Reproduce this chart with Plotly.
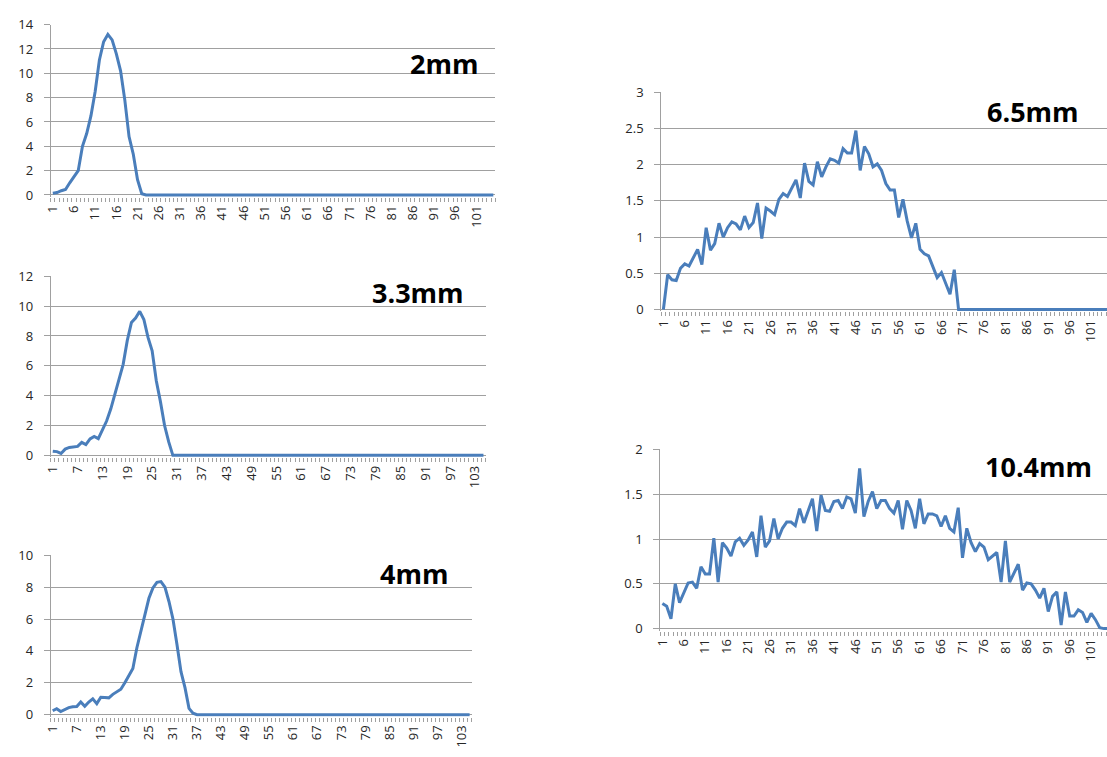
import plotly.graph_objects as go

# ---------------- data ----------------
categories = list(range(1, 106))

ticks_step5 = [1, 6, 11, 16, 21, 26, 31, 36, 41, 46, 51, 56, 61, 66, 71, 76, 81, 86, 91, 96, 101]
ticks_step6 = [1, 7, 13, 19, 25, 31, 37, 43, 49, 55, 61, 67, 73, 79, 85, 91, 97, 103]

titles = ["2mm", "3.3mm", "4mm", "6.5mm", "10.4mm"]

v_2mm = [0.15, 0.2, 0.35, 0.45, 1.0, 1.5, 2.0, 4.0, 5.05, 6.5,
         8.5, 11.1, 12.6, 13.2, 12.75, 11.6, 10.2, 7.8, 4.8, 3.35,
         1.25, 0.1, 0] + [0] * 82

v_3_3mm = [0.28, 0.25, 0.13, 0.42, 0.53, 0.58, 0.6, 0.87, 0.72, 1.1,
           1.27, 1.12, 1.75, 2.3, 3.1, 4.1, 5.0, 6.1, 7.7, 8.9,
           9.2, 9.65, 9.1, 7.9, 7.0, 5.0, 3.6, 2.0, 0.9, 0] + [0] * 75

v_4mm = [0.25, 0.38, 0.2, 0.35, 0.45, 0.5, 0.52, 0.8, 0.53, 0.8,
         1.0, 0.7, 1.1, 1.08, 1.06, 1.28, 1.43, 1.6, 2.0, 2.5,
         2.9, 4.2, 5.3, 6.4, 7.3, 7.95, 8.3, 8.35, 8.0, 7.1,
         6.0, 4.4, 2.7, 1.7, 0.4, 0.1, 0] + [0] * 68

v_6_5mm = [0, 0.48, 0.41, 0.40, 0.57, 0.63, 0.60, 0.71, 0.83, 0.62,
           1.13, 0.82, 0.91, 1.19, 1.0, 1.13, 1.21, 1.18, 1.10, 1.29,
           1.13, 1.2, 1.47, 0.98, 1.40, 1.36, 1.31, 1.52, 1.6, 1.56,
           1.67, 1.79, 1.54, 2.02, 1.77, 1.72, 2.04, 1.83, 1.97, 2.08,
           2.06, 2.02, 2.22, 2.16, 2.16, 2.47, 1.92, 2.25, 2.15, 1.97,
           2.01, 1.92, 1.74, 1.65, 1.65, 1.27, 1.52, 1.22, 0.99, 1.19,
           0.83, 0.77, 0.74, 0.59, 0.44, 0.51, 0.37, 0.21, 0.55, 0] + [0] * 35

v_10_4mm = [0.28, 0.25, 0.11, 0.50, 0.29, 0.40, 0.51, 0.52, 0.45, 0.69,
            0.61, 0.61, 1.01, 0.52, 0.96, 0.90, 0.81, 0.97, 1.01, 0.93,
            0.99, 1.08, 0.80, 1.26, 0.91, 0.98, 1.23, 1.0, 1.12, 1.19,
            1.19, 1.15, 1.34, 1.18, 1.31, 1.45, 1.09, 1.49, 1.32, 1.31,
            1.42, 1.43, 1.34, 1.47, 1.45, 1.29, 1.79, 1.25, 1.42, 1.53,
            1.34, 1.43, 1.43, 1.34, 1.29, 1.43, 1.11, 1.43, 1.32, 1.12,
            1.45, 1.17, 1.28, 1.28, 1.26, 1.14, 1.26, 1.12, 1.08, 1.35,
            0.79, 1.12, 0.96, 0.86, 0.95, 0.91, 0.77, 0.81, 0.85, 0.52,
            0.98, 0.52, 0.63, 0.72, 0.43, 0.51, 0.50, 0.43, 0.34, 0.45,
            0.19, 0.36, 0.41, 0.04, 0.41, 0.14, 0.14, 0.21, 0.18, 0.07,
            0.17, 0.10, 0.01, 0, 0]

series = [v_2mm, v_3_3mm, v_4mm, v_6_5mm, v_10_4mm]
tick_sets = [ticks_step5, ticks_step6, ticks_step6, ticks_step5, ticks_step5]
y_max = [14, 12, 10, 3, 2]
y_step = [2, 2, 2, 0.5, 0.5]

# ---------------- layout (pixel boxes) ----------------
W, H = 1107, 757
# left, right, top(max gridline), zero line, visible x range end
boxes = [
    (43, 491, 16, 190, 105.5),
    (43, 481, 273, 456, 105.5),
    (43, 467, 558, 721, 105.5),
    (658, 1107, 85, 307, 104.7),
    (657, 1107, 450, 633, 104.7),
]
title_pos = [(439.5, 56), (412.5, 290), (408.5, 577), (1032, 105), (1038.5, 467)]

GRID = "#a0a0a0"
LINE = "#4a7ebb"
TICKFONT = dict(family="Open Sans", size=13, color="#262626")
PAD = 2  # px below zero so the thick line at 0 is not clipped

fig = go.Figure()
layout = dict(
    width=W, height=H, margin=dict(l=0, r=0, t=0, b=0),
    paper_bgcolor="white", plot_bgcolor="white", showlegend=False,
    annotations=[],
)

for i in range(5):
    k = "" if i == 0 else str(i + 1)
    l, r, t, z, xend = boxes[i]
    ymax = y_max[i]
    ymin = -PAD * ymax / (z - t)
    fig.add_trace(go.Scatter(
        x=categories, y=series[i], mode="lines",
        line=dict(color=LINE, width=3),
        xaxis="x" + k, yaxis="y" + k, hoverinfo="skip",
    ))
    layout["xaxis" + k] = dict(
        domain=[l / W, r / W], anchor="y" + k,
        range=[0.5, xend], tickmode="array",
        tickvals=tick_sets[i], ticktext=[str(v) for v in tick_sets[i]],
        tickangle=-90, tickfont=TICKFONT,
        ticks="", showgrid=False, zeroline=False, showline=False,
        ticklabelstandoff=5,
        minor=dict(tickmode="linear", tick0=0.5, dtick=1, ticks="outside",
                   ticklen=4, tickcolor=GRID, tickwidth=1, showgrid=False),
    )
    layout["yaxis" + k] = dict(
        domain=[1 - (z + PAD) / H, 1 - t / H], anchor="x" + k,
        range=[ymin, ymax], tickmode="linear", tick0=0, dtick=y_step[i],
        tickfont=TICKFONT, ticks="outside", ticklen=6, tickcolor=GRID,
        tickwidth=1, showgrid=True, gridcolor=GRID, gridwidth=1,
        zeroline=True, zerolinecolor=GRID, zerolinewidth=1,
        showline=True, linecolor=GRID, linewidth=1,
        ticklabelstandoff=8,
    )
    tx, ty = title_pos[i]
    layout["annotations"].append(dict(
        text="<b>" + titles[i] + "</b>", xref="paper", yref="paper",
        x=tx / W, y=1 - ty / H, xanchor="center", yanchor="middle",
        showarrow=False, font=dict(family="Open Sans", size=27, color="black"),
    ))

fig.update_layout(**layout)
fig.write_html(
    "out.html",
    post_script="document.body.style.margin='0';document.body.style.overflow='hidden';",
)
